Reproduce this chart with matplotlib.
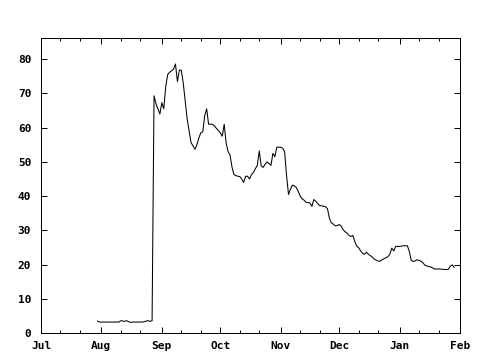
import matplotlib
matplotlib.use("Agg")
import matplotlib.pyplot as plt
import matplotlib.dates as mdates
import pandas as pd

start_date = "2007-07-30"
values = [
    3.5, 3.2, 3.2, 3.2, 3.2, 3.2, 3.2, 3.2, 3.2, 3.2, 3.2, 3.2,  # Jul 30 - Aug 10
    3.6, 3.5, 3.4, 3.6, 3.3, 3.1, 3.2, 3.2, 3.2, 3.2, 3.2, 3.2,  # Aug 11 - Aug 22
    3.3, 3.5, 3.6, 3.4, 3.6,                                     # Aug 23 - Aug 27
    69.3, 67.0, 65.5, 64.0, 67.3, 65.5, 72.0, 75.5, 76.2, 76.6,  # Aug 28 -
    77.1, 78.6, 73.5, 76.8, 76.8, 73.0, 67.8, 62.5, 59.0, 55.6,
    54.7, 53.7, 55.0, 57.0, 58.5, 58.8, 63.5, 65.5, 61.0, 61.0,
    61.0, 60.5, 59.8, 59.2, 58.5, 57.5, 61.0, 55.5, 53.0, 52.0,
    48.5, 46.3, 46.0, 45.8, 45.7, 45.0, 44.0, 45.8, 45.8, 45.0,
    46.3, 46.9, 48.0, 49.0, 53.2, 48.8, 48.4, 49.3, 50.0, 49.5,
    49.0, 52.5, 51.5, 54.3, 54.3, 54.3, 54.0, 53.0, 46.0, 40.5,
    42.0, 43.2, 43.0, 42.5, 41.4, 40.0, 39.2, 38.8, 38.2, 38.1,
    38.0, 37.0, 39.0, 38.5, 37.8, 37.2, 37.2, 37.0, 36.9, 36.3,
    33.5, 32.2, 31.8, 31.3, 31.4, 31.7, 31.3, 30.2, 29.6, 29.2,
    28.5, 28.2, 28.5, 26.8, 25.4, 24.9, 24.0, 23.3, 23.0, 23.6,
    23.0, 22.6, 22.2, 21.6, 21.3, 21.0, 21.0, 21.4, 21.7, 22.0,
    22.3, 23.0, 24.8, 24.0, 25.3, 25.3, 25.3, 25.4, 25.5, 25.5,
    25.5, 23.8, 21.2, 20.9, 21.1, 21.4, 21.2, 21.0, 20.5, 19.8,
    19.6, 19.4, 19.3, 19.0, 18.7, 18.7, 18.7, 18.7, 18.6, 18.6,
    18.5, 18.6, 19.5, 19.9, 19.2,
]
month_ticks = ["2007-07-01", "2007-08-01", "2007-09-01", "2007-10-01",
               "2007-11-01", "2007-12-01", "2008-01-01", "2008-02-01"]
month_labels = ["Jul", "Aug", "Sep", "Oct", "Nov", "Dec", "Jan", "Feb"]
y_ticks = [0, 10, 20, 30, 40, 50, 60, 70, 80]

dates = pd.date_range(start_date, periods=len(values), freq="D")

fig = plt.figure(figsize=(4.8, 3.6), dpi=100)
ax = fig.add_axes([41/480, 27/360, 419/480, 295/360])
ax.plot(dates, values, color="black", linewidth=0.75, antialiased=True)

ax.set_xlim(pd.Timestamp(month_ticks[0]), pd.Timestamp(month_ticks[-1]))
ax.set_ylim(0, 86.2)
ax.set_xticks([pd.Timestamp(t) for t in month_ticks])
ax.set_xticklabels(month_labels)
ax.xaxis.set_minor_locator(mdates.DayLocator(bymonthday=[11, 21]))
ax.set_yticks(y_ticks)
ax.set_yticklabels([str(v) for v in y_ticks])

for lab in ax.get_xticklabels() + ax.get_yticklabels():
    lab.set_fontfamily("DejaVu Sans Mono")
    lab.set_fontweight("bold")
    lab.set_fontsize(8)

ax.tick_params(which="both", direction="in", top=True, right=True, width=0.72, color="black")
ax.tick_params(which="major", length=4.5)
ax.tick_params(which="minor", length=2.3)
ax.tick_params(axis="x", which="major", pad=6)
ax.tick_params(axis="y", which="major", pad=7)
for s in ax.spines.values():
    s.set_linewidth(0.72)
    s.set_color("black")

fig.savefig("out.png", dpi=100)
